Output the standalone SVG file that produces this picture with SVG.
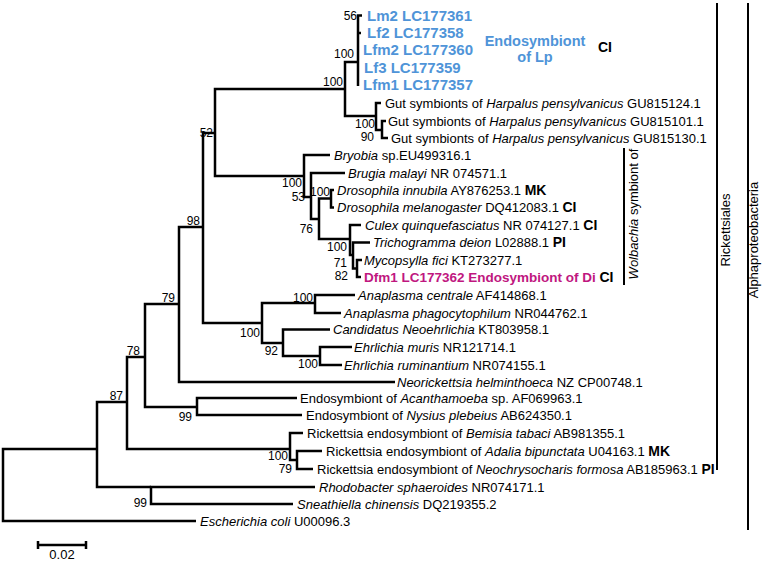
<svg xmlns="http://www.w3.org/2000/svg" width="762" height="561" viewBox="0 0 762 561">
<style>
text{font-family:"Liberation Sans",Arial,sans-serif;font-size:13px;fill:#000}
.i{font-style:italic}
.bs{font-size:12px}
.lp{font-weight:bold;font-size:15px;fill:#4f94d8}
.lq{font-weight:bold;font-size:14.5px;fill:#4f94d8}
.df{font-weight:bold;font-size:13.5px;fill:#c0177f}
.mk{font-weight:bold;font-size:14px}
.br{fill:none;stroke:#000;stroke-width:2.5;stroke-linejoin:miter}
.bar{stroke:#000;stroke-width:2}
</style>
<rect width="762" height="561" fill="#fff"/>
<g id="connectors" class="br">
<path d="M97,449H3V521H196"/>
<path d="M127,402H97V487H151"/>
<path d="M145,357H127V449H290"/>
<path d="M179,304H145V407H197"/>
<path d="M297,398H197V415H302"/>
<path d="M203,227H179V382H395"/>
<path d="M215,133H203V323H262"/>
<path d="M315,303H262V343H283"/>
<path d="M355,295H315V313H341"/>
<path d="M330,329.5H283V356H320"/>
<path d="M352,347H320V365H342"/>
<path d="M345,89H215V176H304"/>
<path d="M358,62H345V116H376"/>
<path d="M362,15.5H358V86"/>
<path d="M358,33H361"/>
<path d="M381,103H376V130H382"/>
<path d="M386,121H382V138H388"/>
<path d="M330,155H304V197H311"/>
<path d="M345,173H311V219H319"/>
<path d="M331,198.5H319V239H350"/>
<path d="M334,190H331V207.5H334"/>
<path d="M361,225H350V255H353"/>
<path d="M370,242.5H353V268.5H357"/>
<path d="M362,260H357V277H361"/>
<path d="M303,433H290V460H297"/>
<path d="M322,451H297V469H313"/>
<path d="M315,487H151V504H293"/>
</g>
<g id="support" class="bs">
<text class="bs" x="357" y="20" text-anchor="end">56</text>
<text class="bs" x="354" y="58" text-anchor="end">100</text>
<text class="bs" x="343" y="86" text-anchor="end">100</text>
<text class="bs" x="375" y="128" text-anchor="end">100</text>
<text class="bs" x="374" y="141" text-anchor="end">90</text>
<text class="bs" x="213" y="137" text-anchor="end">52</text>
<text class="bs" x="302" y="187" text-anchor="end">100</text>
<text class="bs" x="305" y="201" text-anchor="end">53</text>
<text class="bs" x="330" y="196" text-anchor="end">100</text>
<text class="bs" x="313" y="233" text-anchor="end">76</text>
<text class="bs" x="347" y="251" text-anchor="end">100</text>
<text class="bs" x="347" y="267" text-anchor="end">71</text>
<text class="bs" x="348" y="280" text-anchor="end">82</text>
<text class="bs" x="200" y="225" text-anchor="end">98</text>
<text class="bs" x="175" y="302" text-anchor="end">79</text>
<text class="bs" x="313" y="302" text-anchor="end">100</text>
<text class="bs" x="260" y="337" text-anchor="end">100</text>
<text class="bs" x="278" y="355" text-anchor="end">92</text>
<text class="bs" x="318" y="368" text-anchor="end">100</text>
<text class="bs" x="140" y="355" text-anchor="end">78</text>
<text class="bs" x="123" y="400" text-anchor="end">87</text>
<text class="bs" x="192" y="421" text-anchor="end">99</text>
<text class="bs" x="288" y="460" text-anchor="end">100</text>
<text class="bs" x="292" y="473" text-anchor="end">79</text>
<text class="bs" x="147" y="507" text-anchor="end">99</text>
</g>
<g id="lp">
<text class="lp" x="367" y="20.5">Lm2 LC177361</text>
<text class="lp" x="367" y="38">Lf2 LC177358</text>
<text class="lp" x="363" y="55">Lfm2 LC177360</text>
<text class="lp" x="364" y="72.5">Lf3 LC177359</text>
<text class="lp" x="363" y="90">Lfm1 LC177357</text>
<text class="lq" x="535" y="45.5" text-anchor="middle">Endosymbiont</text>
<text class="lq" x="535" y="62" text-anchor="middle">of Lp</text>
<text class="mk" x="598" y="52">CI</text>
</g>
<g id="gut1"><text x="385" y="107.5">Gut symbionts of <tspan class="i">Harpalus pensylvanicus</tspan> GU815124.1</text></g>
<g id="gut2"><text x="388" y="125.5">Gut symbionts of <tspan class="i">Harpalus pensylvanicus</tspan> GU815101.1</text></g>
<g id="gut3"><text x="391" y="142.5">Gut symbionts of <tspan class="i">Harpalus pensylvanicus</tspan> GU815130.1</text></g>
<g id="bryobia"><text x="334" y="159.5"><tspan class="i">Bryobia</tspan> sp.EU499316.1</text></g>
<g id="brugia"><text x="348" y="177.5"><tspan class="i">Brugia malayi</tspan> NR 074571.1</text></g>
<g id="dinnubila"><text x="337" y="194.5"><tspan class="i">Drosophila innubila</tspan> AY876253.1 <tspan class="mk">MK</tspan></text></g>
<g id="dmel"><text x="337" y="212"><tspan class="i">Drosophila melanogaster</tspan> DQ412083.1 <tspan class="mk">CI</tspan></text></g>
<g id="culex"><text x="365" y="229.5"><tspan class="i">Culex quinquefasciatus</tspan> NR 074127.1 <tspan class="mk">CI</tspan></text></g>
<g id="tricho"><text x="373" y="247"><tspan class="i">Trichogramma deion</tspan> L02888.1 <tspan class="mk">PI</tspan></text></g>
<g id="myco"><text x="364" y="264.5"><tspan class="i">Mycopsylla fici</tspan> KT273277.1</text></g>
<g id="dfm1"><text x="364" y="281.5"><tspan class="df">Dfm1 LC177362 Endosymbiont of Di</tspan> <tspan class="mk">CI</tspan></text></g>
<g id="acentrale"><text x="358" y="299.5"><tspan class="i">Anaplasma centrale</tspan> AF414868.1</text></g>
<g id="aphago"><text x="344" y="317.5"><tspan class="i">Anaplasma phagocytophilum</tspan> NR044762.1</text></g>
<g id="candidatus"><text x="333" y="334"><tspan class="i">Candidatus Neoehrlichia</tspan> KT803958.1</text></g>
<g id="emuris"><text x="354" y="351.5"><tspan class="i">Ehrlichia muris</tspan> NR121714.1</text></g>
<g id="erum"><text x="344" y="369.5"><tspan class="i">Ehrlichia ruminantium</tspan> NR074155.1</text></g>
<g id="neori"><text x="397" y="386.5"><tspan class="i">Neorickettsia helminthoeca</tspan> NZ CP00748.1</text></g>
<g id="acanth"><text x="300" y="402.5">Endosymbiont of <tspan class="i">Acanthamoeba</tspan> sp. AF069963.1</text></g>
<g id="nysius"><text x="306" y="419.5">Endosymbiont of <tspan class="i">Nysius plebeius</tspan> AB624350.1</text></g>
<g id="bemisia"><text x="307" y="437.5">Rickettsia endosymbiont of <tspan class="i">Bemisia tabaci</tspan> AB981355.1</text></g>
<g id="adalia"><text x="326" y="455.5">Rickettsia endosymbiont of <tspan class="i">Adalia bipunctata</tspan> U04163.1 <tspan class="mk">MK</tspan></text></g>
<g id="neochryso"><text x="317" y="473.5">Rickettsia endosymbiont of <tspan class="i">Neochrysocharis formosa</tspan> AB185963.1 <tspan class="mk">PI</tspan></text></g>
<g id="rhodo"><text x="319" y="491.5"><tspan class="i">Rhodobacter sphaeroides</tspan> NR074171.1</text></g>
<g id="sneath"><text x="297" y="508.5"><tspan class="i">Sneathiella chinensis</tspan> DQ219355.2</text></g>
<g id="ecoli"><text x="200" y="525.5"><tspan class="i">Escherichia coli</tspan> U00096.3</text></g>
<g id="wolbachia">
<line class="bar" x1="624" y1="148" x2="624" y2="285"/>
<text transform="translate(638,214) rotate(-90)" text-anchor="middle"><tspan class="i">Wolbachia</tspan> symbiont of</text>
</g>
<g id="rickettsiales">
<line class="bar" x1="717" y1="3" x2="717" y2="470"/>
<text transform="translate(730,230) rotate(-90)" text-anchor="middle" font-size="14">Rickettsiales</text>
</g>
<g id="alphaproteobacteria">
<line class="bar" x1="748" y1="3" x2="748" y2="530"/>
<text transform="translate(758,240) rotate(-90)" text-anchor="middle" font-size="14">Alphaproteobacteria</text>
</g>
<g id="scalebar">
<path class="br" d="M38,545H86M38,541V549M86,541V549" stroke-width="2"/>
<text x="62" y="559" text-anchor="middle">0.02</text>
</g>
</svg>
